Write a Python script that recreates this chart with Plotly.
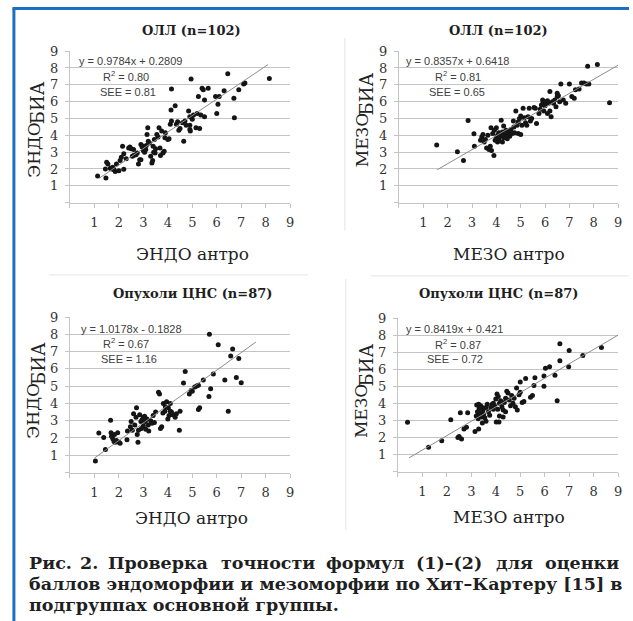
import plotly.graph_objects as go

W, H = 633, 621

# ---------------- DATA ----------------
endo_oll_antro = [1.13,1.47,1.45,1.5,1.55,1.65,1.7,1.75,1.8,1.85,2.0,2.05,2.1,2.2,2.2,2.15,2.3,2.4,2.45,2.5,
                  2.55,2.6,2.7,2.75,2.8,2.85,2.9,2.95,3.0,3.0,3.05,3.1,3.12,3.15,3.18,3.2,3.25,3.3,3.35,3.38,
                  3.4,3.42,3.45,3.48,3.5,3.55,3.6,3.64,3.68,3.7,3.75,3.8,3.85,3.88,3.9,4.0,4.05,4.1,4.15,4.13,
                  4.15,4.3,4.35,4.4,4.5,4.6,4.65,4.7,4.75,4.85,4.9,4.9,4.9,4.92,4.95,5.0,5.05,5.15,5.2,5.25,
                  5.3,5.35,5.4,5.45,5.5,5.5,5.65,5.95,6.0,6.05,6.1,6.3,6.45,6.7,6.72,6.9,7.1,7.15,8.15,2.6,
                  3.05,2.9,1.9,4.45]
endo_oll_bia = [1.58,1.47,2.0,2.4,2.3,2.05,2.0,2.1,1.95,1.85,1.9,2.5,2.7,1.98,2.9,3.35,2.6,3.25,3.3,3.2,
                2.75,2.8,2.85,2.95,2.3,2.55,3.45,3.3,3.35,3.1,3.2,3.15,3.4,4.05,4.45,3.65,3.55,2.75,2.35,2.5,
                3.35,3.0,3.75,2.95,3.2,4.05,3.9,4.45,3.25,2.8,4.25,2.95,3.05,3.85,4.15,3.75,3.8,4.65,4.85,5.5,
                6.75,5.75,4.65,4.8,4.4,4.75,3.65,4.85,4.6,5.45,5.1,4.35,4.6,4.25,7.35,4.95,5.2,4.45,5.3,6.3,
                4.4,5.2,6.8,6.7,5.1,6.1,6.8,6.3,5.3,5.85,6.3,6.65,7.65,6.2,5.05,6.7,7.05,7.1,7.38,3.15,
                3.0,2.55,2.3,4.3]

mezo_oll_antro = [1.55,2.4,2.65,2.84,3.08,3.1,3.35,3.4,3.45,3.5,3.55,3.6,3.7,3.75,3.78,3.8,3.85,3.9,3.92,3.95,
                  4.0,4.0,4.05,4.05,4.1,4.1,4.15,4.2,4.2,4.25,4.25,4.3,4.35,4.4,4.45,4.5,4.55,4.6,4.65,4.7,
                  4.72,4.75,4.8,4.85,4.9,4.95,5.0,5.0,5.05,5.1,5.15,5.2,5.25,5.3,5.35,5.4,5.45,5.55,5.6,5.65,
                  5.75,5.85,5.9,5.92,5.95,6.0,6.0,6.05,6.1,6.1,6.15,6.2,6.2,6.25,6.3,6.35,6.4,6.45,6.5,6.5,
                  6.6,6.65,6.75,6.85,7.0,7.1,7.2,7.25,7.4,7.5,7.6,7.7,7.75,7.8,8.15,8.65,4.3,4.45,3.65,5.8,
                  6.55,4.9]
mezo_oll_bia = [3.42,3.02,2.5,4.88,4.09,3.35,3.7,3.9,4.05,3.6,3.75,3.25,3.15,3.35,4.45,3.1,4.1,2.8,4.3,3.7,
                3.85,4.45,3.6,4.0,4.15,3.75,3.95,4.9,4.05,3.6,4.2,3.85,4.05,4.3,4.0,4.2,3.95,4.35,4.1,4.85,
                4.5,4.15,5.45,4.6,4.8,5.0,5.15,4.05,4.6,5.6,5.05,4.75,4.6,5.1,5.6,4.85,5.0,5.65,5.6,4.7,
                5.3,5.8,6.1,5.95,5.45,5.75,6.0,5.9,6.05,5.3,5.9,6.6,5.45,5.1,6.0,5.9,6.1,5.7,6.3,6.5,
                6.0,7.05,6.1,5.9,7.05,6.3,6.2,6.7,6.75,7.1,7.1,7.05,8.1,7.05,8.2,5.93,4.55,3.8,4.0,5.55,
                6.35,4.1]

endo_cns_antro = [1.04,1.18,1.38,1.45,1.66,1.68,1.7,1.75,1.8,1.82,1.85,1.9,1.95,2.0,2.05,2.33,2.47,2.5,2.55,2.6,
                  2.65,2.7,2.72,2.75,2.78,2.8,2.85,2.9,2.92,2.95,3.0,3.05,3.08,3.1,3.15,3.2,3.22,3.3,3.35,3.4,
                  3.5,3.62,3.66,3.7,3.75,3.82,3.88,3.9,3.95,4.0,4.02,4.05,4.1,4.15,4.2,4.3,4.35,4.5,4.47,4.64,
                  4.71,4.88,4.95,5.0,5.1,5.18,5.25,5.3,5.25,5.45,5.68,5.75,5.7,5.86,6.06,6.33,6.47,6.57,6.65,6.8,
                  6.9,7.0,3.0,3.45,4.1,2.35,3.8]
endo_cns_bia = [0.66,2.28,2.03,1.33,3.03,2.3,2.1,1.95,1.8,2.2,1.75,1.85,2.3,1.75,1.7,1.9,2.65,2.95,2.45,3.4,
                2.75,3.2,3.75,2.2,1.75,2.45,3.35,2.95,2.55,3.05,2.7,3.25,2.95,2.5,3.1,2.75,2.4,3.0,2.85,3.3,
                3.5,4.65,4.55,2.55,2.65,4.0,3.55,3.8,4.1,3.1,3.75,3.3,3.55,3.5,3.35,3.2,3.4,3.55,2.45,5.18,
                5.85,4.55,4.75,4.7,4.95,5.0,3.65,3.75,5.05,5.35,4.4,4.85,8.0,5.7,7.4,5.35,3.55,6.75,7.15,5.5,
                6.6,5.2,3.2,2.9,4.0,2.4,3.45]

mezo_cns_antro = [0.39,1.25,1.79,2.16,2.45,2.5,2.55,2.6,2.7,2.8,2.85,3.15,3.2,3.22,3.25,3.28,3.3,3.32,3.35,3.38,
                  3.4,3.42,3.45,3.48,3.5,3.55,3.6,3.65,3.7,3.8,3.85,3.9,3.95,4.0,4.02,4.05,4.08,4.1,4.13,4.15,
                  4.2,4.25,4.3,4.35,4.4,4.45,4.5,4.55,4.6,4.7,4.75,4.8,4.88,4.95,5.0,5.0,5.08,5.15,5.22,5.42,
                  5.5,5.56,5.6,5.97,5.97,6.03,6.2,6.42,6.51,6.62,6.62,6.98,7.0,7.56,8.32,3.3,3.75,4.15,4.4,4.65,
                  3.9,4.3,3.45,3.6,4.85]
mezo_cns_bia = [2.89,1.42,1.8,3.04,2.0,2.05,3.45,1.9,2.5,2.6,3.45,2.35,3.25,3.9,3.5,3.1,2.5,3.7,3.3,3.85,
                3.45,3.2,2.85,3.6,3.35,3.15,3.75,3.95,3.5,3.75,3.95,3.65,3.85,4.25,2.9,4.55,3.65,4.4,2.9,4.0,
                4.15,3.8,3.6,4.05,3.5,4.7,4.6,4.2,3.85,4.0,4.3,3.8,3.6,4.5,4.65,5.25,4.05,4.1,5.45,4.35,
                4.45,5.05,5.5,5.6,5.0,6.05,6.15,5.65,4.15,7.49,6.5,6.15,7.1,6.8,7.27,3.95,3.3,3.25,4.3,4.45,
                4.0,3.2,3.75,2.95,4.9]

# regression coefficients and x-extent of the fitted lines
slopes = [0.9784, 0.8357, 1.0178, 0.8419]
intercepts = [0.2809, 0.6418, -0.1828, 0.421]
fit_x = [[1.2, 8.1], [1.57, 9.0], [1.0, 7.6], [0.45, 9.0]]

panel_titles = ["ОЛЛ (n=102)", "ОЛЛ (n=102)", "Опухоли ЦНС (n=87)", "Опухоли ЦНС (n=87)"]
x_titles = ["ЭНДО антро", "МЕЗО антро", "ЭНДО антро", "МЕЗО антро"]
y_main = ["ЭНДО", "МЕЗО", "ЭНДО", "МЕЗО"]
y_sub = ["БИА", "БИА", "БИА", "БИА"]
eq_texts = ["y = 0.9784x + 0.2809", "y = 0.8357x + 0.6418", "y = 1.0178x - 0.1828", "y = 0.8419x + 0.421"]
r2_texts = ["R<sup>2</sup> = 0.80", "R<sup>2</sup> = 0.81", "R<sup>2</sup> = 0.67", "R<sup>2</sup> = 0.87"]
see_texts = ["SEE = 0.81", "SEE = 0.65", "SEE = 1.16", "SEE − 0.72"]
tick_vals = [0, 1, 2, 3, 4, 5, 6, 7, 8, 9]
tick_text = ["", "1", "2", "3", "4", "5", "6", "7", "8", "9"]

caption_words_1 = ["Рис.", "2.", "Проверка", "точности", "формул", "(1)–(2)", "для", "оценки"]
caption_line_2 = "баллов эндоморфии и мезоморфии по Хит–Картеру [15] в"
caption_line_3 = "подгруппах основной группы."

xs_all = [endo_oll_antro, mezo_oll_antro, endo_cns_antro, mezo_cns_antro]
ys_all = [endo_oll_bia, mezo_oll_bia, endo_cns_bia, mezo_cns_bia]

# ---------------- LAYOUT HELPERS ----------------
def px(x):
    return x / W

def py(y):
    # target pixel row -> paper fraction (corrects the small vertical offset seen when photographed)
    d = (y - 9.0) / 0.9855
    return 1 - d / H

# plot boxes in pixels: (left, right, top, bottom)
boxes = [(70.4, 292, 53, 204), (401.5, 622, 53, 204), (70.4, 292, 318, 473), (400.5, 622, 319, 472)]
title_pos = [(193, 32), (502, 32), (194, 295), (502, 295)]
xtitle_pos = [(194, 255), (512, 255), (193, 518), (512, 517)]
ymain_pos = [(33.5, 181), (364, 171), (33.5, 441), (364, 441)]
ysub_pos = [(38.5, 128), (369, 119), (38.5, 388), (369, 389)]
eq_pos = [(77, 63), (407, 63), (79, 330), (407, 330)]
r2_pos = [(127, 78), (461, 78), (127, 344), (461, 345)]
see_pos = [(129, 94), (460, 94), (130, 360), (458, 360)]

fig = go.Figure()
layout = dict(width=W, height=H, margin=dict(l=0, r=0, t=0, b=0, pad=0),
              paper_bgcolor="white", plot_bgcolor="white", showlegend=False)

ann = []
grid_col = "#c4c4c4"
tick_font = dict(family="DejaVu Serif", size=13, color="#333333")

for i in range(4):
    sfx = "" if i == 0 else str(i + 1)
    xa, ya = "x" + sfx, "y" + sfx
    l, r, t, b = boxes[i]
    layout["xaxis" + sfx] = dict(domain=[px(l), px(r)], range=[0, 9], anchor=ya,
                                 showgrid=False, zeroline=False, showline=True, linecolor=grid_col,
                                 linewidth=1, ticks="outside", ticklen=4, tickcolor=grid_col,
                                 tickvals=tick_vals, ticktext=tick_text, tickfont=tick_font,
                                 ticklabelstandoff=4, fixedrange=True)
    layout["yaxis" + sfx] = dict(domain=[py(b), py(t)], range=[0, 9], anchor=xa,
                                 showgrid=True, gridcolor=grid_col, gridwidth=1, zeroline=False,
                                 showline=True, linecolor=grid_col, linewidth=1,
                                 ticks="outside", ticklen=4, tickcolor=grid_col,
                                 tickvals=tick_vals, ticktext=tick_text, tickfont=tick_font,
                                 ticklabelstandoff=4, fixedrange=True)
    fig.add_trace(go.Scatter(x=xs_all[i], y=ys_all[i], mode="markers", xaxis=xa, yaxis=ya,
                             marker=dict(size=5, color="#151515")))
    lx = fit_x[i]
    ly = [slopes[i] * v + intercepts[i] for v in lx]
    fig.add_trace(go.Scatter(x=lx, y=ly, mode="lines", xaxis=xa, yaxis=ya,
                             line=dict(color="#8c8c8c", width=1)))

    ann.append(dict(x=px(title_pos[i][0]), y=py(title_pos[i][1]), xref="paper", yref="paper",
                    text="<b>" + panel_titles[i] + "</b>", showarrow=False,
                    font=dict(family="DejaVu Serif", size=13, color="#1e1e1e"),
                    xanchor="center", yanchor="middle"))
    ann.append(dict(x=px(xtitle_pos[i][0]), y=py(xtitle_pos[i][1]), xref="paper", yref="paper",
                    text=x_titles[i], showarrow=False,
                    font=dict(family="DejaVu Serif", size=17, color="#222222"),
                    xanchor="center", yanchor="middle"))
    ann.append(dict(x=px(ymain_pos[i][0]), y=py(ymain_pos[i][1]), xref="paper", yref="paper",
                    text=y_main[i], showarrow=False, textangle=-90,
                    font=dict(family="DejaVu Serif", size=17, color="#222222"),
                    xanchor="center", yanchor="bottom"))
    ann.append(dict(x=px(ysub_pos[i][0]), y=py(ysub_pos[i][1]), xref="paper", yref="paper",
                    text=y_sub[i], showarrow=False, textangle=-90,
                    font=dict(family="DejaVu Serif", size=18, color="#222222"),
                    xanchor="center", yanchor="bottom"))
    eq_font = dict(family="Liberation Sans", size=11, color="#404040")
    ann.append(dict(x=px(eq_pos[i][0]), y=py(eq_pos[i][1]), xref="paper", yref="paper",
                    text=eq_texts[i], showarrow=False, font=eq_font,
                    xanchor="left", yanchor="middle"))
    ann.append(dict(x=px(r2_pos[i][0]), y=py(r2_pos[i][1]), xref="paper", yref="paper",
                    text=r2_texts[i], showarrow=False, font=eq_font,
                    xanchor="center", yanchor="middle"))
    ann.append(dict(x=px(see_pos[i][0]), y=py(see_pos[i][1]), xref="paper", yref="paper",
                    text=see_texts[i], showarrow=False, font=eq_font,
                    xanchor="center", yanchor="middle"))

# caption
cap_font = dict(family="DejaVu Serif", size=17.5, color="#1f1f1f")
word_cx = [27, 89.5, 159.5, 269.5, 367.5, 452, 518, 625]
for k, (wx, wtxt) in enumerate(zip(word_cx, caption_words_1)):
    anchor = "left" if k == 0 else ("right" if k == len(caption_words_1) - 1 else "center")
    ann.append(dict(x=px(wx), y=py(563), xref="paper", yref="paper", text="<b>" + wtxt + "</b>",
                    showarrow=False, font=cap_font, xanchor=anchor, yanchor="middle"))
ann.append(dict(x=px(27), y=py(584), xref="paper", yref="paper", text="<b>" + caption_line_2 + "</b>",
                showarrow=False, font=cap_font, xanchor="left", yanchor="middle"))
ann.append(dict(x=px(27), y=py(605), xref="paper", yref="paper", text="<b>" + caption_line_3 + "</b>",
                showarrow=False, font=cap_font, xanchor="left", yanchor="middle"))

layout["annotations"] = ann

faint = "#e4e4e4"
blue = "#1c6fc1"
top_line = min(py(8), 1 - 1.5 / H)
shapes = [
    dict(type="line", xref="paper", yref="paper", x0=px(14), x1=px(14), y0=top_line, y1=0,
         line=dict(color=blue, width=3)),
    dict(type="line", xref="paper", yref="paper", x0=px(12.5), x1=px(633), y0=top_line, y1=top_line,
         line=dict(color=blue, width=3)),
    dict(type="line", xref="paper", yref="paper", x0=px(50), x1=px(310), y0=py(276), y1=py(276),
         line=dict(color=faint, width=1)),
    dict(type="line", xref="paper", yref="paper", x0=px(373), x1=px(633), y0=py(277), y1=py(277),
         line=dict(color=faint, width=1)),
    dict(type="line", xref="paper", yref="paper", x0=px(347), x1=px(347), y0=py(40), y1=py(232),
         line=dict(color=faint, width=1)),
    dict(type="line", xref="paper", yref="paper", x0=px(348), x1=px(348), y0=py(280), y1=py(530),
         line=dict(color=faint, width=1)),
]
layout["shapes"] = shapes

fig.update_layout(**layout)
fig.write_html("out.html", config={"displayModeBar": False},
               post_script="var h=document.documentElement, b=document.body;"
                           "h.style.margin='0';h.style.padding='0';h.style.overflow='hidden';"
                           "h.style.height='621px';"
                           "b.style.margin='0';b.style.padding='0';b.style.overflow='hidden';"
                           "b.style.height='621px';b.style.fontSize='0';b.style.lineHeight='0';"
                           "var d=document.getElementById('{plot_id}');"
                           "d.style.position='fixed';d.style.top='0px';d.style.left='0px';"
                           "d.style.margin='0';")
